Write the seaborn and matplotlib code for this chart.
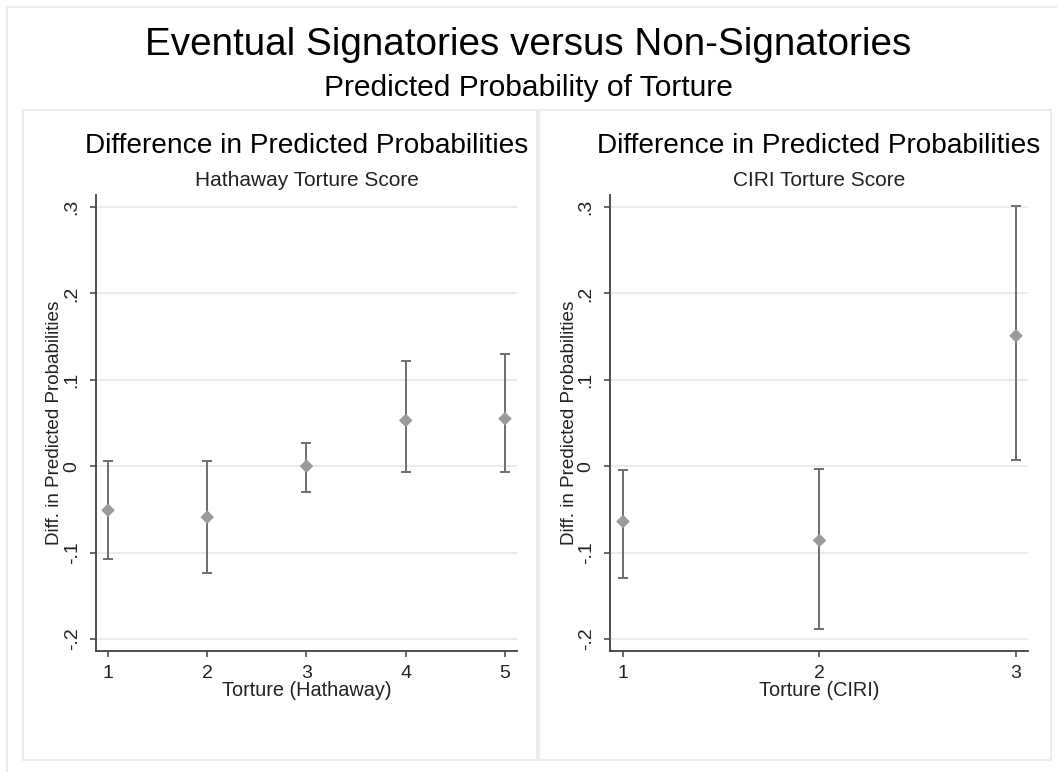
import matplotlib
matplotlib.use("Agg")
import matplotlib.pyplot as plt
from matplotlib.patches import Rectangle
import pandas as pd
import seaborn as sns

# Hathaway panel
hath_score = [1, 2, 3, 4, 5]
hath_diff = [-0.051, -0.059, 0.000, 0.053, 0.055]
hath_lo = [-0.107, -0.124, -0.030, -0.0066, -0.0066]
hath_hi = [0.006, 0.006, 0.027, 0.122, 0.130]

# CIRI panel
ciri_score = [1, 2, 3]
ciri_diff = [-0.064, -0.086, 0.151]
ciri_lo = [-0.129, -0.188, 0.0077]
ciri_hi = [-0.0046, -0.0027, 0.301]

ytick_vals = [-0.2, -0.1, 0.0, 0.1, 0.2, 0.3]
ytick_labels = ["-.2", "-.1", "0", ".1", ".2", ".3"]

sns.set_style("white")
plt.rcParams["font.family"] = ["Liberation Sans", "DejaVu Sans"]

W, H = 1057, 772
fig = plt.figure(figsize=(W / 100, H / 100), dpi=100)

# frames around the whole graph and each panel
fig.patches.append(Rectangle((7 / W, -0.1), 1.2, 1 - 7 / H + 0.1, transform=fig.transFigure,
                             fill=False, edgecolor="#ececec", lw=1.5))
for x0, x1 in [(23, 537), (539, 1051)]:
    fig.patches.append(Rectangle((x0 / W, 1 - 760 / H), (x1 - x0) / W, (760 - 110) / H,
                                 transform=fig.transFigure, fill=False, edgecolor="#ececec", lw=1.5))

fig.text(0.5, 1 - 45 / H, "Eventual Signatories versus Non-Signatories", ha="center", va="center",
         fontsize=27.8, color="black")
fig.text(0.5, 1 - 88 / H, "Predicted Probability of Torture", ha="center", va="center",
         fontsize=21.6, color="black")

panels = [
    dict(px=(96, 517), xlim=(0.879, 5.121), score=hath_score, diff=hath_diff, lo=hath_lo, hi=hath_hi,
         sub="Hathaway Torture Score", xlabel="Torture (Hathaway)"),
    dict(px=(610, 1028), xlim=(0.934, 3.061), score=ciri_score, diff=ciri_diff, lo=ciri_lo, hi=ciri_hi,
         sub="CIRI Torture Score", xlabel="Torture (CIRI)"),
]

for p in panels:
    x0, x1 = p["px"]
    ax = fig.add_axes([x0 / W, 1 - 651 / H, (x1 - x0) / W, (651 - 195) / H])
    df = pd.DataFrame({"score": p["score"], "diff": p["diff"], "lo": p["lo"], "hi": p["hi"]})

    ax.errorbar(df["score"], df["diff"], yerr=[df["diff"] - df["lo"], df["hi"] - df["diff"]],
                fmt="none", ecolor="#6e6e6e", elinewidth=1.4, capsize=3.8, capthick=1.4, zorder=2)
    sns.scatterplot(data=df, x="score", y="diff", marker="D", s=48, color="#9a9a9a",
                    edgecolor="none", ax=ax, zorder=3)

    ax.set_xlim(*p["xlim"])
    ax.set_ylim(-0.214, 0.314)
    ax.set_xticks(p["score"])
    ax.set_yticks(ytick_vals, ytick_labels)
    ax.yaxis.grid(True, color="#e9e9e9", lw=1.3)
    ax.set_axisbelow(True)
    for side in ["top", "right"]:
        ax.spines[side].set_visible(False)
    for side in ["left", "bottom"]:
        ax.spines[side].set_color("#404040")
        ax.spines[side].set_linewidth(1.3)
    ax.tick_params(left=True, bottom=True, length=4, width=1.1, color="#404040",
                   labelsize=14, labelcolor="#222222")
    ax.tick_params(axis="x", pad=6)
    ax.tick_params(axis="y", pad=7)
    for lab in ax.get_yticklabels():
        lab.set_rotation(90)
        lab.set_va("center")

    ax.set_xlabel(p["xlabel"], fontsize=14.3, color="#222222")
    ax.xaxis.set_label_coords(0.5, (651 - 690) / 456)
    ax.xaxis.label.set_va("center")
    ax.set_ylabel("Diff. in Predicted Probabilities", fontsize=13.6, color="#222222")
    ax.yaxis.set_label_coords(-41 / (x1 - x0), 0.5)
    ax.yaxis.label.set_va("center")

    xc = (x0 + x1) / 2 / W
    fig.text(xc, 1 - 146 / H, "Difference in Predicted Probabilities", ha="center", va="center",
             fontsize=20.2, color="black")
    fig.text(xc, 1 - 180 / H, p["sub"], ha="center", va="center", fontsize=15, color="#222222")

fig.savefig("out.png", dpi=100)
